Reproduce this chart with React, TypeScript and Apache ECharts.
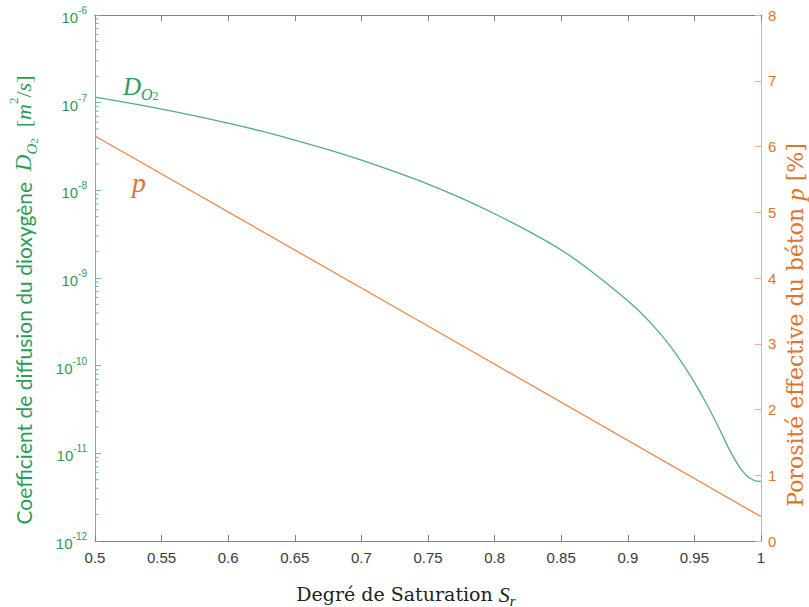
import React, { useEffect, useRef } from "react";
import * as echarts from "echarts";

// Degree of saturation (x) and O2 diffusion coefficient (left log axis)
const saturation = [0.5, 0.525, 0.55, 0.575, 0.6, 0.625, 0.65, 0.675, 0.7, 0.725, 0.75, 0.775, 0.8, 0.825, 0.85, 0.875, 0.9, 0.91, 0.92, 0.93, 0.94, 0.95, 0.96, 0.97, 0.975, 0.98, 0.985, 0.99, 0.995, 1.0];
const diffusion = [1.16e-7, 9.95e-8, 8.45e-8, 7.08e-8, 5.85e-8, 4.73e-8, 3.75e-8, 2.91e-8, 2.21e-8, 1.63e-8, 1.18e-8, 8.15e-9, 5.41e-9, 3.45e-9, 2.09e-9, 1.12e-9, 5.5e-10, 3.98e-10, 2.75e-10, 1.82e-10, 1.12e-10, 6.46e-11, 3.47e-11, 1.74e-11, 1.2e-11, 8.71e-12, 6.61e-12, 5.43e-12, 4.9e-12, 4.79e-12];

// Effective porosity (right axis, %)
const porositySat = [0.5, 0.75, 1.0];
const porosity = [6.16, 3.27, 0.37];

// Minor tick positions of the log axis
const decades = [-12, -11, -10, -9, -8, -7];
const minorMultipliers = [2, 3, 4, 5, 6, 7, 8, 9];

const GREEN_LINE = "#52ad80";
const GREEN_TEXT = "#2e9a58";
const GREEN_AXIS = "#66bc8f";
const ORANGE_LINE = "#f0884a";
const ORANGE_TEXT = "#e2742a";
const ORANGE_AXIS = "#f4aa80";
const GRAY = "#808080";
const SERIF = "Liberation Serif";
const WSERIF = "DejaVu Serif";

export default function App() {
  const ref = useRef<HTMLDivElement>(null);
  useEffect(() => {
    if (!ref.current) return;
    const chart = echarts.init(ref.current, null, { renderer: "svg" });
    const minorTicks: number[][] = [];
    decades.forEach((d) => minorMultipliers.forEach((m) => minorTicks.push([0.5, m * Math.pow(10, d)])));

    const xAxisCommon = {
      type: "value",
      min: 0.5,
      max: 1,
      interval: 0.05,
      splitLine: { show: false },
      axisLine: { show: true, onZero: false, lineStyle: { color: GRAY, width: 1 } },
      axisTick: { show: true, inside: true, length: 6, lineStyle: { color: GRAY } },
    };

    const option: any = {
      animation: false,
      grid: { left: 95, right: 48, top: 15, bottom: 66, containLabel: false },
      xAxis: [
        {
          ...xAxisCommon,
          position: "bottom",
          axisLabel: {
            color: "#3a3a3a",
            fontSize: 15,
            fontFamily: "Liberation Sans",
            margin: 9,
            showMinLabel: true,
            showMaxLabel: true,
            formatter: (v: number) => String(+v.toFixed(2)),
          },
        },
        { ...xAxisCommon, position: "top", axisLabel: { show: false } },
      ],
      yAxis: [
        {
          type: "log",
          logBase: 10,
          min: 1e-12,
          max: 1e-6,
          position: "left",
          splitLine: { show: false },
          axisLine: { show: true, lineStyle: { color: GREEN_AXIS } },
          axisTick: { show: true, inside: true, length: 6, lineStyle: { color: GREEN_AXIS } },
          axisLabel: {
            margin: 8,
            padding: [5, 0, 0, 0],
            formatter: (v: number) => `{b|10}{s|${Math.round(Math.log10(v))}}`,
            rich: {
              b: { color: GREEN_TEXT, fontSize: 15, fontFamily: "Liberation Sans", lineHeight: 24 },
              s: { color: GREEN_TEXT, fontSize: 10, fontFamily: "Liberation Sans", lineHeight: 10, verticalAlign: "top" },
            },
          },
        },
        {
          type: "value",
          min: 0,
          max: 8,
          interval: 1,
          position: "right",
          splitLine: { show: false },
          axisLine: { show: true, lineStyle: { color: ORANGE_AXIS } },
          axisTick: { show: true, inside: true, length: 6, lineStyle: { color: ORANGE_AXIS } },
          axisLabel: { color: ORANGE_TEXT, fontSize: 15, fontFamily: "Liberation Sans", margin: 7 },
        },
      ],
      series: [
        {
          type: "line",
          xAxisIndex: 0,
          yAxisIndex: 0,
          data: saturation.map((s, i) => [s, diffusion[i]]),
          showSymbol: false,
          smooth: 0.35,
          lineStyle: { color: GREEN_LINE, width: 1.3 },
          itemStyle: { color: GREEN_LINE },
          z: 3,
        },
        {
          type: "line",
          xAxisIndex: 0,
          yAxisIndex: 1,
          data: porositySat.map((s, i) => [s, porosity[i]]),
          showSymbol: false,
          lineStyle: { color: ORANGE_LINE, width: 1.3 },
          itemStyle: { color: ORANGE_LINE },
          z: 2,
        },
        {
          type: "custom",
          xAxisIndex: 0,
          yAxisIndex: 0,
          silent: true,
          clip: false,
          data: minorTicks,
          renderItem: (params: any, api: any) => {
            const p = api.coord([api.value(0), api.value(1)]);
            return {
              type: "line",
              shape: { x1: p[0], y1: p[1], x2: p[0] + 3.5, y2: p[1] },
              style: { stroke: GREEN_AXIS, lineWidth: 1 },
            };
          },
        },
      ],
      graphic: [
        {
          type: "text",
          x: 23,
          y: 300,
          rotation: Math.PI / 2,
          style: {
            text: "{t|Coefficient de diffusion du dioxygène  }{d|D}{o|O}{n|2}{u|  [}{i|m}{p|2}{u|/}{i|s}{u|]}",
            align: "center",
            verticalAlign: "middle",
            fill: GREEN_TEXT,
            rich: {
              t: { fill: GREEN_TEXT, fontFamily: "Lato", fontSize: 21, lineHeight: 32 },
              d: { fill: GREEN_TEXT, fontFamily: SERIF, fontStyle: "italic", fontSize: 23, lineHeight: 32 },
              o: { fill: GREEN_TEXT, fontFamily: SERIF, fontStyle: "italic", fontSize: 15, lineHeight: 16, verticalAlign: "bottom" },
              n: { fill: GREEN_TEXT, fontFamily: SERIF, fontSize: 11, lineHeight: 11, verticalAlign: "bottom" },
              u: { fill: GREEN_TEXT, fontFamily: SERIF, fontSize: 22, lineHeight: 32 },
              i: { fill: GREEN_TEXT, fontFamily: SERIF, fontStyle: "italic", fontSize: 22, lineHeight: 32 },
              p: { fill: GREEN_TEXT, fontFamily: SERIF, fontSize: 13, lineHeight: 13, verticalAlign: "top" },
            },
          },
        },
        {
          type: "text",
          x: 795,
          y: 325,
          rotation: Math.PI / 2,
          style: {
            text: "{t|Porosité effective du béton }{i|p}{t| [%]}",
            align: "center",
            verticalAlign: "middle",
            fill: ORANGE_TEXT,
            rich: {
              t: { fill: ORANGE_TEXT, fontFamily: WSERIF, fontSize: 22, lineHeight: 24 },
              i: { fill: ORANGE_TEXT, fontFamily: SERIF, fontStyle: "italic", fontSize: 25, lineHeight: 24 },
            },
          },
        },
        {
          type: "text",
          x: 406,
          y: 594,
          style: {
            text: "{t|Degré de Saturation }{i|S}{r|r}",
            align: "center",
            verticalAlign: "middle",
            fill: "#222",
            rich: {
              t: { fill: "#222", fontFamily: WSERIF, fontSize: 19, lineHeight: 28 },
              i: { fill: "#222", fontFamily: SERIF, fontStyle: "italic", fontSize: 22, lineHeight: 28 },
              r: { fill: "#222", fontFamily: SERIF, fontStyle: "italic", fontSize: 15, lineHeight: 14, verticalAlign: "bottom" },
            },
          },
        },
        {
          type: "text",
          x: 123,
          y: 86,
          style: {
            text: "{d|D}{o|O}{n|2}",
            align: "left",
            verticalAlign: "middle",
            fill: GREEN_TEXT,
            rich: {
              d: { fill: GREEN_TEXT, fontFamily: SERIF, fontStyle: "italic", fontSize: 25, lineHeight: 32 },
              o: { fill: GREEN_TEXT, fontFamily: SERIF, fontStyle: "italic", fontSize: 16, lineHeight: 16, verticalAlign: "bottom" },
              n: { fill: GREEN_TEXT, fontFamily: SERIF, fontSize: 12, lineHeight: 12, verticalAlign: "bottom" },
            },
          },
        },
        {
          type: "text",
          x: 132,
          y: 182,
          style: {
            text: "p",
            align: "left",
            verticalAlign: "middle",
            fill: ORANGE_TEXT,
            fontFamily: SERIF,
            fontStyle: "italic",
            fontSize: 28,
          },
        },
      ],
    };
    chart.setOption(option);
    return () => chart.dispose();
  }, []);
  return <div ref={ref} style={{ position: "absolute", left: 0, top: 0, width: 809, height: 607 }} />;
}
